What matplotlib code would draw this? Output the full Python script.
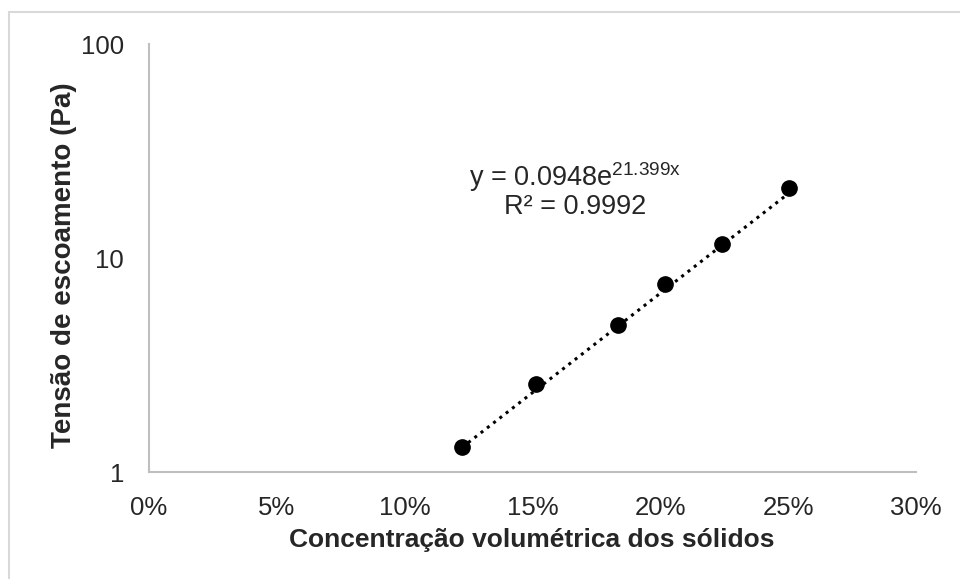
import numpy as np
import matplotlib
matplotlib.use("Agg")
import matplotlib.pyplot as plt
from matplotlib.patches import Rectangle
from matplotlib.ticker import FuncFormatter, FixedLocator, NullLocator

plt.rcParams['font.family'] = ['Liberation Sans', 'DejaVu Sans']

# data
conc = [0.1224, 0.1513, 0.1834, 0.2020, 0.2240, 0.2503]
tensao = [1.31, 2.58, 4.86, 7.56, 11.6, 21.2]
fit_a = 0.0948
fit_b = 21.399
x_ticks = [0, 0.05, 0.10, 0.15, 0.20, 0.25, 0.30]
y_ticks = [1, 10, 100]

txt = '#262626'

fig = plt.figure(figsize=(9.6, 5.79), dpi=100)
fig.patches.append(Rectangle((9 / 960, -0.1), 1.1, (579 - 12) / 579 + 0.1,
                             transform=fig.transFigure, fill=False,
                             edgecolor='#d9d9d9', linewidth=1.5))
ax = fig.add_axes([149 / 960, 107 / 579, 767 / 960, 428 / 579])

xf = np.linspace(min(conc), max(conc), 100)
ax.plot(xf, fit_a * np.exp(fit_b * xf), color='black', linestyle=(0, (1, 1.6)),
        linewidth=2.2, zorder=2)
ax.plot(conc, tensao, 'o', color='black', markersize=11, zorder=3)

ax.set_yscale('log')
ax.set_xlim(0, 0.30)
ax.set_ylim(1, 100)
ax.xaxis.set_major_locator(FixedLocator(x_ticks))
ax.yaxis.set_major_locator(FixedLocator(y_ticks))
ax.yaxis.set_minor_locator(NullLocator())
ax.xaxis.set_major_formatter(FuncFormatter(lambda v, p: f"{v * 100:.0f}%"))
ax.yaxis.set_major_formatter(FuncFormatter(lambda v, p: f"{v:g}"))

for s in ['top', 'right']:
    ax.spines[s].set_visible(False)
for s in ['left', 'bottom']:
    ax.spines[s].set_color('#bfbfbf')
    ax.spines[s].set_linewidth(1.5)
ax.tick_params(length=0, labelsize=18.5, colors=txt)
ax.tick_params(axis='x', pad=17)
ax.tick_params(axis='y', pad=18)

ax.set_xlabel("Concentração volumétrica dos sólidos", fontsize=19,
              fontweight='bold', color=txt)
ax.set_ylabel("Tensão de escoamento (Pa)", fontsize=20,
              fontweight='bold', color=txt)
ax.xaxis.set_label_coords(0.499, -0.13)
ax.yaxis.set_label_coords(-0.094, 0.484)

ax.text(0.555, 0.688, r"y = 0.0948e$^{\mathregular{21.399x}}$",
        transform=ax.transAxes, ha='center', va='center', fontsize=19.5,
        color=txt)
ax.text(0.555, 0.62, "R² = 0.9992", transform=ax.transAxes,
        ha='center', va='center', fontsize=19.5, color=txt)

fig.savefig("out.png", dpi=100)
